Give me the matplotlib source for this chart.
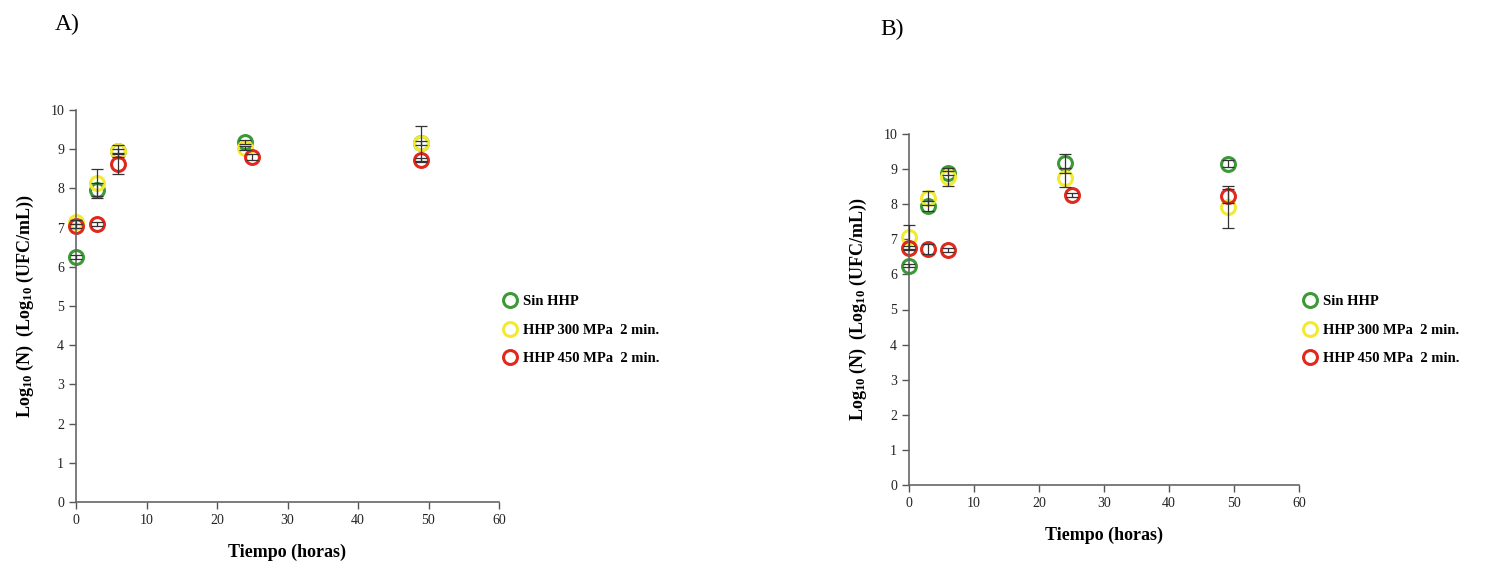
import matplotlib
matplotlib.use("Agg")
import matplotlib.pyplot as plt
from matplotlib.lines import Line2D

plt.rcParams["font.family"] = ["Liberation Serif", "DejaVu Serif"]
plt.rcParams["mathtext.fontset"] = "custom"
plt.rcParams["mathtext.rm"] = "Liberation Serif:bold"
plt.rcParams["mathtext.it"] = "Liberation Serif:bold"
plt.rcParams["mathtext.bf"] = "Liberation Serif:bold"

series_labels = ["Sin HHP", "HHP 300 MPa  2 min.", "HHP 450 MPa  2 min."]
series_colors = ["#3c9a36", "#f2ea2e", "#e0281c"]

# Panel A
a_time = [
    [0, 3, 6, 24, 49],
    [0, 3, 6, 24, 49],
    [0, 3, 6, 25, 49],
]
a_logn = [
    [6.25, 7.95, 8.95, 9.18, 9.15],
    [7.15, 8.15, 8.95, 9.03, 9.15],
    [7.05, 7.10, 8.62, 8.80, 8.72],
]
a_err = [
    [0.05, 0.20, 0.15, 0.05, 0.05],
    [0.05, 0.35, 0.05, 0.05, 0.45],
    [0.05, 0.05, 0.25, 0.07, 0.05],
]

# Panel B
b_time = [
    [0, 3, 6, 24, 49],
    [0, 3, 6, 24, 49],
    [0, 3, 6, 25, 49],
]
b_logn = [
    [6.25, 7.95, 8.89, 9.17, 9.15],
    [7.07, 8.18, 8.78, 8.75, 7.92],
    [6.75, 6.72, 6.70, 8.26, 8.23],
]
b_err = [
    [0.05, 0.15, 0.05, 0.27, 0.10],
    [0.35, 0.20, 0.25, 0.27, 0.60],
    [0.05, 0.15, 0.05, 0.05, 0.20],
]

x_ticks = [0, 10, 20, 30, 40, 50, 60]
y_ticks = list(range(0, 11))

W, H = 1498, 565
fig = plt.figure(figsize=(W / 100, H / 100), dpi=100)


def px_axes(left, top, right, bottom):
    return fig.add_axes([left / W, 1 - bottom / H, (right - left) / W, (bottom - top) / H])


def draw_panel(ax, times, values, errors, legend_xy):
    for t, v, e, c, lab in zip(times, values, errors, series_colors, series_labels):
        ax.plot(t, v, "o", ms=10, mfc="none", mec=c, mew=2.2, label=lab, zorder=2, clip_on=False)
        ax.errorbar(t, v, yerr=e, fmt="none", ecolor="#333333", elinewidth=0.9,
                    capsize=4, capthick=0.9, zorder=3, clip_on=False)
    ax.set_xlim(0, 60)
    ax.set_ylim(0, 10)
    ax.set_xticks(x_ticks)
    ax.set_yticks(y_ticks)
    ax.tick_params(direction="out", length=5, width=1, colors="#555555", labelcolor="#222222",
                   labelsize=10)
    for s in ("top", "right"):
        ax.spines[s].set_visible(False)
    for s in ("left", "bottom"):
        ax.spines[s].set_color("#666666")
        ax.spines[s].set_linewidth(1.2)
    ax.set_xlabel("Tiempo (horas)", fontsize=13, fontweight="bold", labelpad=12)
    ax.set_ylabel(r"Log$_{10}$ (N)  (Log$_{10}$ (UFC/mL))", fontsize=13,
                  fontweight="bold", labelpad=10)
    handles = [Line2D([], [], ls="none", marker="o", ms=10, mfc="none", mec=c, mew=2.2)
               for c in series_colors]
    ax.legend(handles, series_labels, loc="upper left", bbox_to_anchor=legend_xy,
              bbox_transform=fig.transFigure, frameon=False, handletextpad=0.3,
              handlelength=1.2, labelspacing=1.05,
              prop={"family": "Liberation Serif", "weight": "bold", "size": 10.5})


ax_a = px_axes(76, 110, 499, 502)
draw_panel(ax_a, a_time, a_logn, a_err, (488 / W, 1 - 282 / H))
ax_b = px_axes(909, 134, 1299, 485)
draw_panel(ax_b, b_time, b_logn, b_err, (1288 / W, 1 - 282 / H))

fig.text(55 / W, 1 - 30 / H, "A)", fontsize=17)
fig.text(880 / W, 1 - 35 / H, "B)", fontsize=17)

fig.savefig("out.png", dpi=100, facecolor="white")
